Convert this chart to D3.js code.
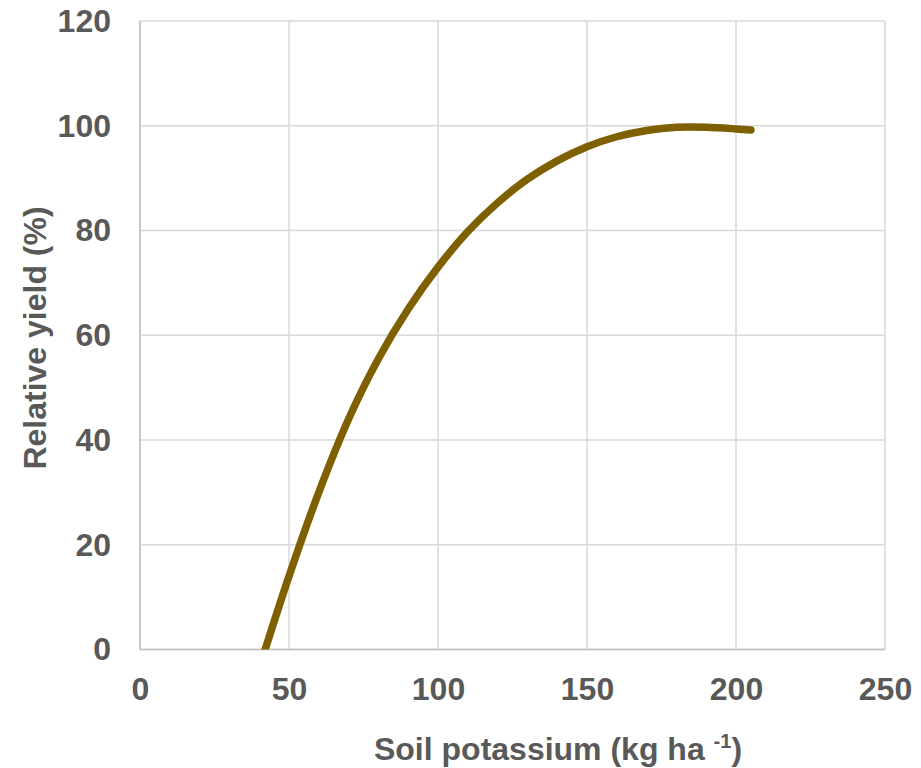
<!DOCTYPE html>
<html>
<head>
<meta charset="utf-8">
<script src="https://cdn.jsdelivr.net/npm/d3@7"></script>
<style>
  html, body { margin: 0; padding: 0; background: #fff; }
  svg { display: block; }
  text { font-family: "Liberation Sans", Arial, sans-serif; font-weight: bold; fill: #595959; }
</style>
</head>
<body>
<svg id="chart" width="921" height="768"></svg>
<script>
// Response curve: soil potassium (kg/ha) vs relative yield (%)
const soilK = [42, 50, 60, 70, 80, 90, 100, 110, 120, 130, 140, 150, 160, 170, 180, 190, 200, 205];
const relYield = [0, 14, 30, 44, 55.5, 65, 73, 79.8, 85.3, 89.8, 93.3, 96, 97.9, 99.1, 99.7, 99.7, 99.4, 99.2];

const xTicks = [0, 50, 100, 150, 200, 250];
const yTicks = [0, 20, 40, 60, 80, 100, 120];

const svg = d3.select("#chart");
const plot = { left: 140, right: 885, top: 21, bottom: 649.5 };
const fontPx = "32px";

const x = d3.scaleLinear().domain([0, 250]).range([plot.left, plot.right]);
const y = d3.scaleLinear().domain([0, 120]).range([plot.bottom, plot.top]);

// clip region: curve is cut flat at the x-axis
svg.append("defs").append("clipPath").attr("id", "plot-clip")
  .append("rect")
  .attr("x", plot.left).attr("y", plot.top - 10)
  .attr("width", plot.right - plot.left + 10)
  .attr("height", plot.bottom - plot.top + 10);

// gridlines
const grid = svg.append("g");
grid.selectAll("line.v").data(xTicks).join("line")
  .attr("x1", d => x(d)).attr("x2", d => x(d))
  .attr("y1", plot.top).attr("y2", plot.bottom)
  .attr("stroke", "#D9D9D9").attr("stroke-width", 1.5);
grid.selectAll("line.h").data(yTicks).join("line")
  .attr("x1", plot.left).attr("x2", plot.right)
  .attr("y1", d => y(d)).attr("y2", d => y(d))
  .attr("stroke", "#D9D9D9").attr("stroke-width", 1.5);

// axis baselines
svg.append("line").attr("x1", plot.left).attr("x2", plot.right)
  .attr("y1", plot.bottom).attr("y2", plot.bottom)
  .attr("stroke", "#BFBFBF").attr("stroke-width", 1.5);
svg.append("line").attr("x1", plot.left).attr("x2", plot.left)
  .attr("y1", plot.top).attr("y2", plot.bottom)
  .attr("stroke", "#BFBFBF").attr("stroke-width", 1.5);

// axes (labels only)
const xAxis = d3.axisBottom(x).tickValues(xTicks).tickSize(0).tickPadding(28);
const gx = svg.append("g").attr("transform", `translate(0,${plot.bottom})`).call(xAxis);
gx.select(".domain").remove();
gx.selectAll("text").style("font-size", fontPx).attr("fill", "#595959")
  .style("font-family", '"Liberation Sans", Arial, sans-serif').style("font-weight", "bold");

const yAxis = d3.axisLeft(y).tickValues(yTicks).tickSize(0).tickPadding(29);
const gy = svg.append("g").attr("transform", `translate(${plot.left},0)`).call(yAxis);
gy.select(".domain").remove();
gy.selectAll("text").style("font-size", fontPx).attr("fill", "#595959")
  .style("font-family", '"Liberation Sans", Arial, sans-serif').style("font-weight", "bold");

// response curve
const line = d3.line().x((d, i) => x(soilK[i])).y(d => y(d)).curve(d3.curveCatmullRom.alpha(0.5));
svg.append("path").datum(relYield)
  .attr("clip-path", "url(#plot-clip)")
  .attr("d", line)
  .attr("fill", "none")
  .attr("stroke", "#7F6000")
  .attr("stroke-width", 7.5)
  .attr("stroke-linecap", "round")
  .attr("stroke-linejoin", "round");

// axis titles
const xt = svg.append("text").attr("x", 558).attr("y", 760)
  .attr("text-anchor", "middle").style("font-size", fontPx);
xt.append("tspan").text("Soil potassium (kg ha ");
xt.append("tspan").text("-1").style("font-size", "20px").attr("dy", -12);
xt.append("tspan").text(")").attr("dy", 12);

svg.append("text")
  .attr("transform", "translate(46,338) rotate(-90)")
  .attr("text-anchor", "middle").style("font-size", fontPx)
  .text("Relative yield (%)");
</script>
</body>
</html>
